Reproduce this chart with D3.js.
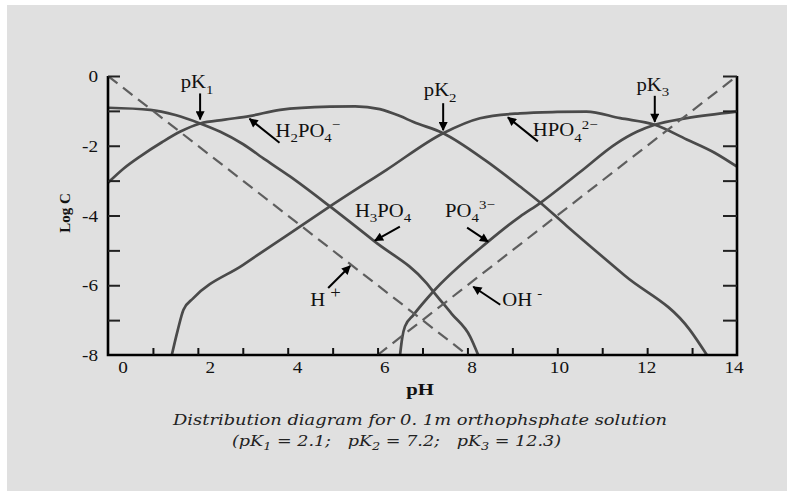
<!DOCTYPE html>
<html>
<head>
<meta charset="utf-8">
<script src="https://cdn.jsdelivr.net/npm/d3@7/dist/d3.min.js"></script>
<style>
  html, body { margin: 0; padding: 0; background: #ffffff; }
  svg { display: block; }
</style>
</head>
<body>
<svg id="chart" width="787" height="491"></svg>
<script>
// ---------------- DATA ----------------
const xTicks = [0, 1, 2, 3, 4, 5, 6, 7, 8, 9, 10, 11, 12, 13, 14];
const xTickLabels = [0, 2, 4, 6, 8, 10, 12, 14];
const yTicks = [0, -1, -2, -3, -4, -5, -6, -7, -8];
const yTickLabels = [0, -2, -4, -6, -8];

const h3po4PH   = [0, 0.94, 1.5, 2.05, 2.5, 3.0, 3.5, 4.05, 4.94, 5.94, 7.09, 7.24, 7.65, 8.06, 8.24];
const h3po4Log  = [-0.91, -0.97, -1.12, -1.36, -1.6, -1.95, -2.4, -2.88, -3.74, -4.75, -5.94, -6.18, -6.82, -7.47, -8.0];

const h2po4PH   = [0, 0.35, 0.71, 1.2, 1.6, 2.05, 2.6, 3.15, 3.83, 4.94, 5.5, 6.05, 6.5, 6.8, 7.46, 8.4, 9.17, 9.61, 10.21, 11.5, 12.95, 13.33];
const h2po4Log  = [-3.06, -2.65, -2.31, -1.9, -1.6, -1.36, -1.25, -1.15, -0.97, -0.88, -0.87, -0.95, -1.15, -1.32, -1.64, -2.42, -3.17, -3.62, -4.3, -5.72, -7.28, -8.0];

const hpo4PH    = [1.42, 1.55, 1.68, 1.9, 3.0, 4.05, 4.94, 6.2, 7.46, 8.28, 9.17, 10.0, 10.65, 11.4, 12.17, 12.88, 13.5, 14];
const hpo4Log   = [-8.0, -7.3, -6.7, -6.37, -5.42, -4.51, -3.74, -2.69, -1.64, -1.21, -1.07, -1.03, -1.02, -1.21, -1.40, -1.82, -2.2, -2.6];

const po4PH     = [6.5, 6.55, 6.61, 6.8, 7.24, 8.46, 9.17, 9.61, 10.5, 11.32, 11.77, 12.17, 12.88, 14];
const po4Log    = [-8.0, -7.5, -7.18, -6.85, -6.18, -4.75, -4.03, -3.65, -2.76, -1.93, -1.6, -1.40, -1.21, -1.02];

const hPH       = [0, 8];
const hLog      = [0, -8];
const ohPH      = [6, 14];
const ohLog     = [-8, 0];

const captionLine1 = "Distribution diagram for 0. 1m orthophsphate solution";

// ---------------- LAYOUT ----------------
const svg = d3.select("#chart");
const W = 787, H = 491;
const plot = { left: 108, right: 737, top: 76, bottom: 355 };

const x = d3.scaleLinear().domain([0, 14]).range([plot.left, plot.right]);
const y = d3.scaleLinear().domain([-8, 0]).range([plot.bottom, plot.top]);
// tick labels in the original are laid out on a slightly narrower grid
const xLab = d3.scaleLinear().domain([0, 14]).range([plot.left + 15, plot.right - 3]);

const serif = "'Liberation Serif', 'Times New Roman', serif";
const stretch = 1.2;

// panel background (small white margin at left/top in the original)
svg.append("rect").attr("x", 0).attr("y", 0).attr("width", W).attr("height", H).attr("fill", "#ffffff");
svg.append("rect").attr("x", 7).attr("y", 5).attr("width", W - 7).attr("height", H - 5).attr("fill", "#e0e0e0");

// clip
svg.append("clipPath").attr("id", "clip").append("rect")
  .attr("x", plot.left).attr("y", plot.top)
  .attr("width", plot.right - plot.left).attr("height", plot.bottom - plot.top);

const curveColor = "#4a4a4a";
const dashColor = "#5e5e5e";
const line = d3.line().x(d => x(d[0])).y(d => y(d[1])).curve(d3.curveMonotoneX);
const zip = (a, b) => a.map((v, i) => [v, b[i]]);

const marks = svg.append("g").attr("clip-path", "url(#clip)");
[[h3po4PH, h3po4Log], [h2po4PH, h2po4Log], [hpo4PH, hpo4Log], [po4PH, po4Log]].forEach(([p, l]) => {
  marks.append("path").datum(zip(p, l)).attr("d", line)
    .attr("fill", "none").attr("stroke", curveColor).attr("stroke-width", 2.7)
    .attr("stroke-linejoin", "round");
});
[[hPH, hLog], [ohPH, ohLog]].forEach(([p, l]) => {
  marks.append("path").datum(zip(p, l)).attr("d", d3.line().x(d => x(d[0])).y(d => y(d[1])))
    .attr("fill", "none").attr("stroke", dashColor).attr("stroke-width", 2.2)
    .attr("stroke-dasharray", "12,7");
});

// ---------------- AXES ----------------
const axisG = svg.append("g");
axisG.append("path")
  .attr("d", `M${plot.left},${plot.top}V${plot.bottom}H${plot.right}V${plot.top}`)
  .attr("fill", "none").attr("stroke", "#000").attr("stroke-width", 2.6);

const xAxis = d3.axisBottom(x).tickValues(xTicks.slice(1, -1)).tickSize(-7).tickFormat("");
axisG.append("g").attr("transform", `translate(0,${plot.bottom})`).call(xAxis)
  .call(g => g.select(".domain").remove())
  .call(g => g.selectAll(".tick line").attr("stroke", "#111").attr("stroke-width", 2));

const yAxisL = d3.axisLeft(y).tickValues(yTicks.slice(0, -1)).tickSize(-12).tickFormat("");
axisG.append("g").attr("transform", `translate(${plot.left},0)`).call(yAxisL)
  .call(g => g.select(".domain").remove())
  .call(g => g.selectAll(".tick line").attr("stroke", "#222").attr("stroke-width", 2));
const yAxisR = d3.axisRight(y).tickValues(yTicks.slice(0, -1)).tickSize(-14).tickFormat("");
axisG.append("g").attr("transform", `translate(${plot.right},0)`).call(yAxisR)
  .call(g => g.select(".domain").remove())
  .call(g => g.selectAll(".tick line").attr("stroke", "#222").attr("stroke-width", 2));

function stretchedText(parent, px, py, txt, opts = {}) {
  const g = parent.append("g").attr("transform", `translate(${px},${py}) scale(${opts.sx || stretch},1)`);
  return g.append("text").attr("x", 0).attr("y", 0)
    .attr("font-family", serif).attr("font-size", opts.size || 16)
    .attr("font-weight", opts.weight || "normal")
    .attr("text-anchor", opts.anchor || "middle").attr("fill", "#111").text(txt);
}
xTickLabels.forEach(v => stretchedText(axisG, xLab(v), plot.bottom + 18, String(v), { size: 16 }));
yTickLabels.forEach(v => stretchedText(axisG, plot.left - 10, y(v) + 6, String(v), { size: 16, anchor: "end" }));

stretchedText(axisG, 420, 395, "pH", { size: 17, weight: "bold", sx: 1.22 });
axisG.append("text").attr("transform", `translate(70,213) rotate(-90)`)
  .attr("font-family", serif).attr("font-size", 15).attr("font-weight", "bold")
  .attr("text-anchor", "middle").attr("fill", "#111").text("Log C");

// ---------------- ANNOTATIONS ----------------
svg.append("defs").append("marker").attr("id", "ah")
  .attr("viewBox", "0 0 10 10").attr("refX", 9).attr("refY", 5)
  .attr("markerWidth", 11).attr("markerHeight", 9).attr("markerUnits", "userSpaceOnUse")
  .attr("orient", "auto")
  .append("path").attr("d", "M0,0L10,5L0,10Z").attr("fill", "#000");

const sub = t => ({ t, k: "sub" }), sup = t => ({ t, k: "sup" }), n = t => ({ t, k: null });
const annotations = [
  { segs: [n("pK"), sub("1")], at: [2.05, -1.36], tip: [0, -4], tail: [0, -30], txt: [-3, -35], anchor: "middle" },
  { segs: [n("pK"), sub("2")], at: [7.46, -1.64], tip: [0, -3], tail: [0, -30], txt: [-3, -37], anchor: "middle" },
  { segs: [n("pK"), sub("3")], at: [12.17, -1.40], tip: [0, -3], tail: [0, -29], txt: [-2, -34], anchor: "middle" },
  { segs: [n("H"), sub("2"), n("PO"), sub("4"), sup("\u2212")], at: [3.15, -1.17], tip: [0, 2], tail: [30, 26], txt: [26, 20], anchor: "start" },
  { segs: [n("HPO"), sub("4"), sup("2\u2212")], at: [8.9, -1.1], tip: [0, 3], tail: [30, 27], txt: [25, 22], anchor: "start" },
  { segs: [n("H"), sub("3"), n("PO"), sub("4")], at: [5.94, -4.75], tip: [0, -1], tail: [25, -15], txt: [-20, -25], anchor: "start" },
  { segs: [n("PO"), sub("4"), sup("3\u2212")], at: [8.46, -4.75], tip: [0, 0], tail: [-21, -14], txt: [-43, -25], anchor: "start" },
  { segs: [n("H "), sup("+")], at: [5.39, -5.39], tip: [0, 2], tail: [-22, 24], txt: [-40, 42], anchor: "start", supScale: 0.9 },
  { segs: [n("OH "), sup("-")], at: [8.13, -5.87], tip: [0, 6], tail: [27, 24], txt: [29, 25], anchor: "start" }
];

const annG = svg.append("g");
annotations.forEach(a => {
  const px = x(a.at[0]), py = y(a.at[1]);
  const tx = px + a.tip[0], ty = py + a.tip[1];
  annG.append("line")
    .attr("x1", px + a.tail[0]).attr("y1", py + a.tail[1])
    .attr("x2", tx).attr("y2", ty)
    .attr("stroke", "#000").attr("stroke-width", 2).attr("marker-end", "url(#ah)");
  const fs = 18;
  const g = annG.append("g").attr("transform", `translate(${px + a.txt[0]},${py + a.txt[1]}) scale(1.15,1)`);
  const t = g.append("text").attr("font-family", serif).attr("font-size", fs)
    .attr("text-anchor", a.anchor).attr("fill", "#111");
  let cur = 0;
  a.segs.forEach(s => {
    const target = s.k === "sub" ? fs * 0.3 : s.k === "sup" ? -fs * 0.42 : 0;
    t.append("tspan").attr("dy", target - cur)
      .attr("font-size", s.k ? fs * (s.k === "sup" && a.supScale ? a.supScale : 0.72) : fs)
      .text(s.t);
    cur = target;
  });
});

// ---------------- CAPTION ----------------
const capFont = "'DejaVu Serif', serif";
svg.append("text").attr("x", 173).attr("y", 425)
  .attr("font-family", capFont).attr("font-style", "italic").attr("font-size", 15)
  .attr("textLength", 494).attr("lengthAdjust", "spacingAndGlyphs")
  .attr("fill", "#222").text(captionLine1);

const cap2 = svg.append("text").attr("x", 232).attr("y", 446)
  .attr("font-family", capFont).attr("font-style", "italic").attr("font-size", 15)
  .attr("fill", "#222").attr("textLength", 329).attr("lengthAdjust", "spacingAndGlyphs")
  .style("white-space", "pre");
const cap2Segs = [n("(pK"), sub("1"), n(" = 2.1;   pK"), sub("2"), n(" = 7.2;   pK"), sub("3"), n(" = 12.3)")];
let cc = 0;
cap2Segs.forEach(s => {
  const target = s.k === "sub" ? 4 : 0;
  cap2.append("tspan").attr("dy", target - cc).attr("font-size", s.k ? 11 : 15).text(s.t);
  cc = target;
});
</script>
</body>
</html>
